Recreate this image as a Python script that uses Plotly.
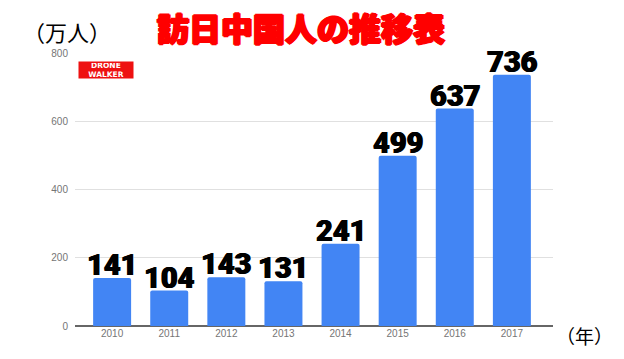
import plotly.graph_objects as go

years = ["2010", "2011", "2012", "2013", "2014", "2015", "2016", "2017"]
visitors = [141, 104, 143, 131, 241, 499, 637, 736]
y_ticks = [0, 200, 400, 600, 800]

fig = go.Figure()
fig.add_trace(go.Bar(
    x=years, y=visitors,
    marker=dict(color="#4285F4", cornerradius=2, line=dict(width=0)),
    hoverinfo="skip",
))

for i, v in enumerate(visitors):
    fig.add_annotation(x=i, y=v, text=str(v), showarrow=False,
                       xanchor="center", yanchor="bottom", yshift=-6,
                       font=dict(family="Roboto, Inter, Arial", size=29, color="black", weight=900,
                                 shadow="0.6px 0 0 black, -0.6px 0 0 black, 1px 1px 1px white"))

fig.update_layout(
    width=624, height=359,
    margin=dict(l=75, r=71, t=53, b=33),
    paper_bgcolor="white", plot_bgcolor="white",
    showlegend=False,
    bargap=0.335,
    xaxis=dict(type="category", range=[-0.65, 7.72], showgrid=False,
               tickfont=dict(family="Arial, Liberation Sans", size=10, color="#757575"),
               ticks="", showline=False, zeroline=False),
    yaxis=dict(range=[0, 800], tickvals=y_ticks, showgrid=True, gridcolor="#e0e0e0",
               tickfont=dict(family="Arial, Liberation Sans", size=10, color="#757575"),
               zeroline=True, zerolinecolor="#666666", zerolinewidth=1.5,
               ticks="", ticklabelstandoff=6, showline=False),
)

fig.add_annotation(text="訪日中国人の推移表", xref="paper", yref="paper", x=0.472, y=1.0,
                   xanchor="center", yanchor="bottom", yshift=1, showarrow=False,
                   font=dict(family="Noto Sans CJK JP", size=32, color="#ff0000", weight=900,
                             shadow="1.2px 0 0 #ff0000, -1.2px 0 0 #ff0000, 0 1.2px 0 #ff0000, 0 -1.2px 0 #ff0000"))
fig.add_annotation(text="（万人）", xref="paper", yref="paper", x=-0.016, y=1.0,
                   xanchor="center", yanchor="bottom", yshift=4, showarrow=False,
                   font=dict(family="Noto Sans CJK JP", size=22, color="black"))
fig.add_annotation(text="（年）", xref="paper", yref="paper", x=1.0, y=0.0,
                   xanchor="left", yanchor="middle", xshift=1, yshift=-9, showarrow=False,
                   font=dict(family="Noto Sans CJK JP", size=19, color="black"))
fig.add_annotation(text="<b>DRONE<br>WALKER</b>", xref="paper", yref="paper", x=0.006, y=0.97,
                   xanchor="left", yanchor="top", showarrow=False, align="center",
                   width=52, height=14, bgcolor="#ee1111", borderpad=1,
                   font=dict(family="DejaVu Sans", size=7.5, color="white"))

fig.write_html("out.html", config={"displayModeBar": False},
               post_script="document.body.style.margin='0';")
